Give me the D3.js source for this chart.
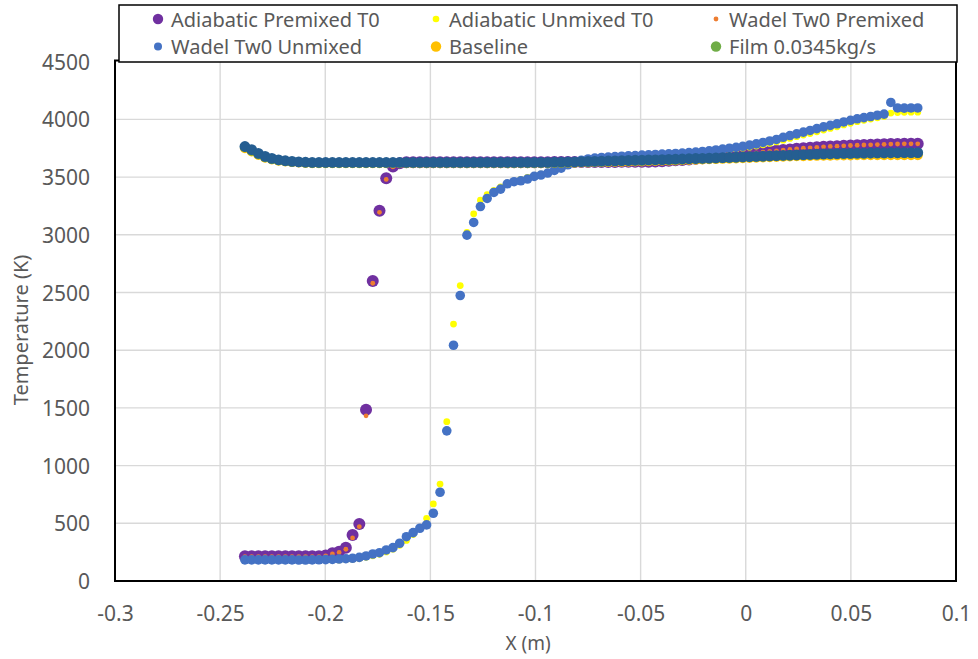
<!DOCTYPE html>
<html>
<head>
<meta charset="utf-8">
<script src="https://cdn.jsdelivr.net/npm/d3@7"></script>
<style>
  body { margin: 0; background: #fff; }
  svg { display: block; }
  text { font-family: "Noto Sans", "Open Sans", sans-serif; fill: #595959; }
</style>
</head>
<body>
<svg id="chart" width="978" height="659"></svg>
<script>
// Axial station along the chamber (m), shared by all series
const xPositions = [
  -0.2382, -0.2350, -0.2318, -0.2286, -0.2254, -0.2222, -0.2190, -0.2158, -0.2126, -0.2094,
  -0.2062, -0.2030, -0.1998, -0.1966, -0.1934, -0.1902, -0.1870, -0.1838, -0.1806, -0.1774,
  -0.1742, -0.1710, -0.1678, -0.1646, -0.1614, -0.1582, -0.1550, -0.1518, -0.1486, -0.1454,
  -0.1422, -0.1390, -0.1358, -0.1326, -0.1294, -0.1262, -0.1230, -0.1198, -0.1166, -0.1134,
  -0.1102, -0.1070, -0.1038, -0.1006, -0.0974, -0.0942, -0.0910, -0.0878, -0.0846, -0.0814,
  -0.0782, -0.0750, -0.0718, -0.0686, -0.0654, -0.0622, -0.0590, -0.0558, -0.0526, -0.0494,
  -0.0462, -0.0430, -0.0398, -0.0366, -0.0334, -0.0302, -0.0270, -0.0238, -0.0206, -0.0174,
  -0.0142, -0.0110, -0.0078, -0.0046, -0.0014, 0.0018, 0.0050, 0.0082, 0.0114, 0.0146,
  0.0178, 0.0210, 0.0242, 0.0274, 0.0306, 0.0338, 0.0370, 0.0402, 0.0434, 0.0466,
  0.0498, 0.0530, 0.0562, 0.0594, 0.0626, 0.0658, 0.0690, 0.0722, 0.0754, 0.0786,
  0.0818
];

// Temperature (K) per station
const adiabaticPremixedT0 = [
  215, 215, 215, 215, 215, 215, 215, 215, 215, 215,
  215, 215, 222, 240, 254, 289, 399, 494, 1483, 2600,
  3208, 3490, 3592, 3620, 3628, 3628, 3628, 3628, 3628, 3628,
  3628, 3628, 3628, 3628, 3628, 3628, 3628, 3628, 3628, 3628,
  3628, 3628, 3628, 3628, 3628, 3628, 3630, 3630, 3630, 3630,
  3630, 3630, 3630, 3630, 3630, 3630, 3632, 3632, 3632, 3632,
  3632, 3635, 3638, 3641, 3645, 3649, 3653, 3658, 3663, 3668,
  3674, 3680, 3686, 3692, 3698, 3704, 3710, 3716, 3722, 3728,
  3734, 3740, 3745, 3750, 3754, 3758, 3762, 3765, 3768, 3771,
  3774, 3776, 3778, 3780, 3782, 3784, 3786, 3787, 3788, 3788,
  3788
];

const adiabaticUnmixedT0 = [
  182, 182, 182, 182, 182, 182, 182, 182, 182, 182,
  182, 182, 182, 182, 182, 185, 189, 196, 205, 218,
  232, 252, 276, 310, 352, 402, 458, 543, 668, 840,
  1381, 2226, 2560, 3020, 3182, 3300, 3347, 3385, 3415, 3445,
  3465, 3480, 3497, 3512, 3526, 3542, 3562, 3582, 3602, 3620,
  3634, 3645, 3653, 3658, 3662, 3666, 3669, 3672, 3675, 3678,
  3681, 3684, 3687, 3690, 3693, 3696, 3700, 3704, 3709, 3714,
  3720, 3727, 3734, 3742, 3750, 3759, 3769, 3780, 3792, 3805,
  3820, 3835, 3850, 3864, 3878, 3893, 3908, 3922, 3936, 3952,
  3966, 3980, 3992, 4003, 4014, 4025, 4055, 4060, 4062, 4063,
  4063
];

const wadelTw0Premixed = [
  210, 210, 210, 210, 210, 210, 210, 210, 210, 210,
  210, 210, 218, 235, 248, 275, 373, 471, 1431, 2580,
  3195, 3480, 3588, 3620, 3628, 3628, 3628, 3628, 3628, 3628,
  3628, 3628, 3628, 3628, 3628, 3628, 3628, 3628, 3628, 3628,
  3628, 3628, 3628, 3628, 3628, 3628, 3630, 3630, 3630, 3630,
  3630, 3630, 3630, 3630, 3630, 3630, 3632, 3632, 3632, 3632,
  3632, 3635, 3638, 3641, 3645, 3649, 3653, 3658, 3663, 3668,
  3674, 3680, 3686, 3692, 3698, 3704, 3710, 3716, 3722, 3728,
  3734, 3740, 3745, 3750, 3754, 3758, 3762, 3765, 3768, 3771,
  3774, 3776, 3778, 3780, 3782, 3784, 3786, 3787, 3788, 3788,
  3788
];

const wadelTw0Unmixed = [
  183, 183, 183, 183, 183, 183, 183, 183, 182, 182,
  183, 184, 185, 187, 190, 193, 197, 205, 217, 234,
  245, 269, 289, 327, 384, 419, 457, 486, 587, 769,
  1301, 2043, 2474, 2997, 3107, 3245, 3315, 3367, 3396, 3442,
  3460, 3468, 3483, 3506, 3518, 3535, 3558, 3578, 3607, 3628,
  3645, 3657, 3665, 3670, 3674, 3678, 3681, 3684, 3687, 3690,
  3693, 3696, 3699, 3702, 3705, 3708, 3712, 3717, 3722, 3728,
  3735, 3742, 3750, 3758, 3767, 3777, 3788, 3800, 3813, 3826,
  3845, 3860, 3875, 3890, 3904, 3920, 3935, 3948, 3962, 3978,
  3992, 4005, 4015, 4025, 4036, 4046, 4147, 4099, 4098, 4099,
  4099
];

const baseline = [
  3750, 3722, 3692, 3668, 3652, 3642, 3635, 3630, 3626, 3623,
  3621, 3620, 3620, 3620, 3620, 3620, 3620, 3620, 3620, 3620,
  3620, 3620, 3620, 3620, 3620, 3620, 3620, 3620, 3620, 3620,
  3620, 3620, 3620, 3620, 3620, 3620, 3620, 3620, 3620, 3620,
  3620, 3620, 3620, 3620, 3620, 3621, 3622, 3623, 3624, 3625,
  3626, 3627, 3628, 3629, 3630, 3631, 3632, 3633, 3635, 3636,
  3638, 3639, 3641, 3643, 3644, 3646, 3648, 3650, 3652, 3654,
  3656, 3658, 3660, 3662, 3664, 3666, 3668, 3670, 3672, 3674,
  3676, 3678, 3680, 3681, 3683, 3684, 3685, 3686, 3687, 3688,
  3688, 3689, 3689, 3690, 3690, 3690, 3690, 3690, 3690, 3690,
  3690
];

const film0345 = [
  3758, 3728, 3698, 3672, 3656, 3645, 3637, 3632, 3628, 3625,
  3623, 3622, 3622, 3622, 3622, 3622, 3622, 3622, 3622, 3622,
  3622, 3622, 3622, 3622, 3622, 3622, 3622, 3622, 3622, 3622,
  3622, 3622, 3622, 3622, 3622, 3622, 3622, 3622, 3622, 3622,
  3622, 3622, 3622, 3622, 3622, 3623, 3624, 3625, 3626, 3627,
  3629, 3630, 3632, 3633, 3635, 3636, 3638, 3639, 3641, 3642,
  3644, 3645, 3647, 3649, 3650, 3652, 3654, 3656, 3658, 3660,
  3662, 3664, 3666, 3668, 3670, 3672, 3674, 3676, 3679, 3681,
  3684, 3686, 3688, 3690, 3692, 3694, 3696, 3697, 3699, 3700,
  3701, 3702, 3703, 3704, 3705, 3705, 3706, 3706, 3707, 3707,
  3707
];

const filmRefined = [
  3765, 3738, 3706, 3680, 3662, 3650, 3642, 3636, 3632, 3629,
  3627, 3627, 3627, 3627, 3627, 3627, 3627, 3627, 3627, 3627,
  3627, 3627, 3627, 3627, 3627, 3627, 3627, 3627, 3627, 3627,
  3627, 3627, 3627, 3627, 3627, 3627, 3627, 3627, 3627, 3627,
  3627, 3627, 3627, 3627, 3627, 3628, 3629, 3630, 3631, 3632,
  3634, 3636, 3637, 3638, 3640, 3641, 3643, 3644, 3646, 3647,
  3649, 3650, 3652, 3654, 3655, 3657, 3659, 3661, 3663, 3665,
  3667, 3669, 3671, 3673, 3675, 3677, 3679, 3681, 3684, 3686,
  3689, 3691, 3693, 3695, 3697, 3699, 3701, 3702, 3704, 3705,
  3706, 3707, 3708, 3709, 3710, 3710, 3711, 3711, 3712, 3712,
  3712
];

const xTicks = [-0.3, -0.25, -0.2, -0.15, -0.1, -0.05, 0, 0.05, 0.1];
const yTicks = [0, 500, 1000, 1500, 2000, 2500, 3000, 3500, 4000, 4500];

// Drawing order follows the legend; the last series sits on top
const series = [
  { name: "Adiabatic Premixed T0", values: adiabaticPremixedT0, color: "#7030A0", r: 6.0, legendR: 5.2, col: 0, row: 0 },
  { name: "Adiabatic Unmixed T0",  values: adiabaticUnmixedT0,  color: "#FFFF00", r: 3.4, legendR: 3.3, col: 1, row: 0 },
  { name: "Wadel Tw0 Premixed",    values: wadelTw0Premixed,    color: "#ED7D31", r: 2.4, legendR: 2.4, col: 2, row: 0 },
  { name: "Wadel Tw0 Unmixed",     values: wadelTw0Unmixed,     color: "#4472C4", r: 4.8, legendR: 4.0, col: 0, row: 1 },
  { name: "Baseline",              values: baseline,            color: "#FFC000", r: 5.0, legendR: 5.2, col: 1, row: 1 },
  { name: "Film 0.0345kg/s",       values: film0345,            color: "#70AD47", r: 5.0, legendR: 5.2, col: 2, row: 1 },
  { name: null,                    values: filmRefined,         color: "#255E91", r: 5.4 }
];

const svg = d3.select("#chart");
const plot = { left: 115, right: 956, top: 61.7, bottom: 581 };

const x = d3.scaleLinear().domain([-0.3, 0.1]).range([plot.left, plot.right]);
const y = d3.scaleLinear().domain([0, 4500]).range([plot.bottom, plot.top]);

// Gridlines
const grid = svg.append("g").attr("stroke", "#d9d9d9").attr("stroke-width", 1.4);
grid.selectAll("line.v").data(xTicks.slice(1, -1)).join("line")
  .attr("x1", d => x(d)).attr("x2", d => x(d))
  .attr("y1", plot.top).attr("y2", plot.bottom);
grid.selectAll("line.h").data(yTicks.slice(1, -1)).join("line")
  .attr("x1", plot.left).attr("x2", plot.right)
  .attr("y1", d => y(d)).attr("y2", d => y(d));

// Axes (labels only; frame drawn separately)
const fmtX = d => d === 0 ? "0" : String(+d.toFixed(2));
const fmtY = d => String(d);
const xAxis = svg.append("g").attr("transform", `translate(0,${plot.bottom})`)
  .call(d3.axisBottom(x).tickValues(xTicks).tickFormat(fmtX).tickSize(0));
xAxis.select(".domain").remove();
xAxis.selectAll("text").attr("y", 40).attr("dy", 0)
  .style("font-size", "21px").style("fill", "#595959")
  .style("font-family", "'Noto Sans', sans-serif");

const yAxis = svg.append("g").attr("transform", `translate(${plot.left},0)`)
  .call(d3.axisLeft(y).tickValues(yTicks).tickFormat(fmtY).tickSize(0));
yAxis.select(".domain").remove();
yAxis.selectAll("text").attr("x", -25).attr("dy", "0.36em")
  .style("font-size", "21px").style("fill", "#595959")
  .style("font-family", "'Noto Sans', sans-serif");

// Axis titles
svg.append("text")
  .attr("transform", "translate(28,330) rotate(-90)")
  .attr("text-anchor", "middle")
  .style("font-size", "20px")
  .text("Temperature (K)");
svg.append("text")
  .attr("x", 528).attr("y", 650)
  .attr("text-anchor", "middle")
  .style("font-size", "19px")
  .text("X (m)");

// Scatter markers
const marks = svg.append("g");
series.forEach(s => {
  marks.append("g").selectAll("circle")
    .data(s.values.map((v, i) => [xPositions[i], v]))
    .join("circle")
    .attr("cx", d => x(d[0]))
    .attr("cy", d => y(d[1]))
    .attr("r", s.r)
    .attr("fill", s.color);
});

// Plot frame
svg.append("rect")
  .attr("x", plot.left).attr("y", 60.5)
  .attr("width", plot.right - plot.left).attr("height", plot.bottom - 60.5)
  .attr("fill", "none").attr("stroke", "#000").attr("stroke-width", 2);

// Legend box
const legend = svg.append("g");
legend.append("rect")
  .attr("x", 119).attr("y", 5).attr("width", 838).attr("height", 57)
  .attr("fill", "#fff").attr("stroke", "#000").attr("stroke-width", 1.5);

const colX = [158, 436, 716];
const rowY = [19, 46.5];
series.filter(s => s.name).forEach(s => {
  legend.append("circle")
    .attr("cx", colX[s.col]).attr("cy", rowY[s.row])
    .attr("r", s.legendR).attr("fill", s.color);
  legend.append("text")
    .attr("x", colX[s.col] + 13).attr("y", rowY[s.row] + 7.5)
    .style("font-size", "20px")
    .text(s.name);
});
</script>
</body>
</html>
